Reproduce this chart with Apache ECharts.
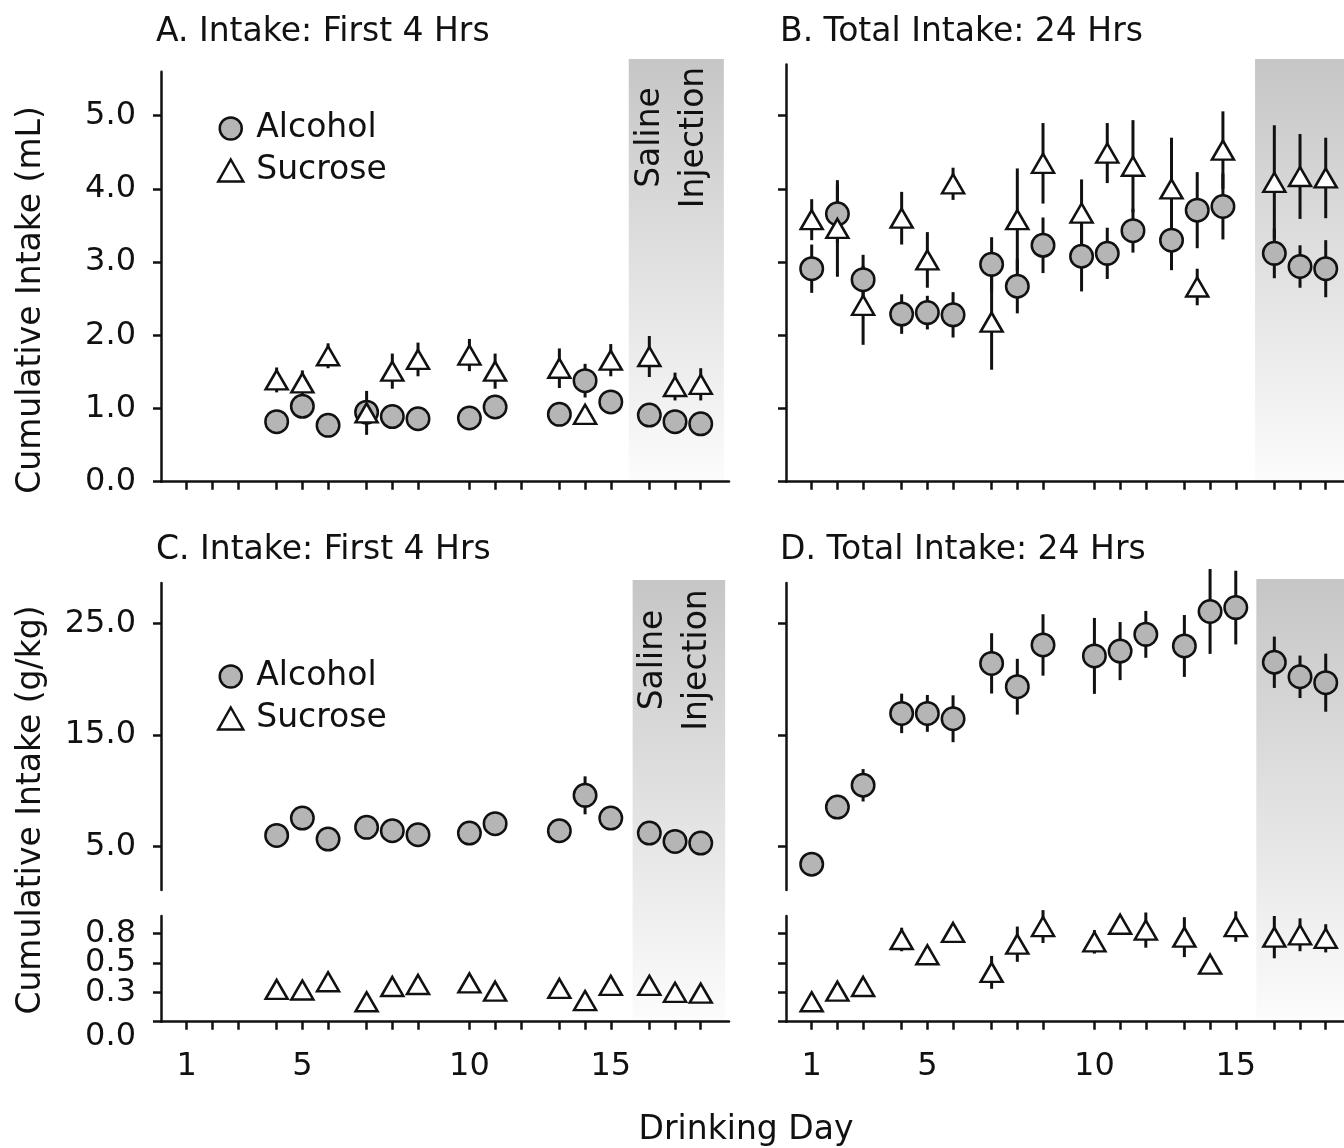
<!DOCTYPE html>
<html>
<head>
<meta charset="utf-8">
<script src="https://cdn.jsdelivr.net/npm/echarts@6/dist/echarts.min.js"></script>
<style>
html, body { margin: 0; padding: 0; background: #fff; }
#chart { width: 1344px; height: 1148px; }
</style>
</head>
<body>
<div id="chart"></div>
<script>
// drinking days and where each sits on the x axis (blocks of 3 with gaps)
var days = [1, 2, 3, 4, 5, 6, 7, 8, 9, 10, 11, 12, 13, 14, 15, 16, 17, 18];
var dayPos = [1, 2, 3, 4.5, 5.5, 6.5, 8, 9, 10, 12, 13, 14, 15.5, 16.5, 17.5, 19, 20, 21];
// panel B plots days 10-15 half a step left of their ticks
var dayPosB = [1, 2, 3, 4.5, 5.5, 6.5, 8, 9, 10, 11.5, 12.5, 13.5, 15, 16, 17, 19, 20, 21];
var labelDays = [1, 5, 10, 15];

var mlTicks = [0, 1, 2, 3, 4, 5];
var gkgTicks = [5, 15, 25];
var lowTicks = [0, 0.25, 0.5, 0.75];
var lowLabels = ['0.0', '0.3', '0.5', '0.8'];

// saline injection block (x positions)
var salineA = [18.2, 21.9];
var salineB = [18.25, 22.1];
var salineC = [18.35, 21.95];
var salineD = [18.3, 22.1];

// A: first 4 hrs (mL)
var alcMlA = [null, null, null, 0.82, 1.03, 0.77, 0.95, 0.89, 0.86, 0.87, 1.02, null, 0.92, 1.38, 1.09, 0.91, 0.82, 0.79];
var alcMlAErr = [0, 0, 0, 0.05, 0.08, 0.05, 0.06, 0.05, 0.05, 0.05, 0.06, 0, 0.05, 0.23, 0.06, 0.05, 0.05, 0.05];
var sucMlA = [null, null, null, 1.39, 1.35, 1.72, 0.94, 1.51, 1.67, 1.73, 1.51, null, 1.55, 0.92, 1.66, 1.71, 1.30, 1.33];
var sucMlAErr = [0, 0, 0, 0.17, 0.17, 0.17, 0.30, 0.24, 0.23, 0.22, 0.24, 0, 0.27, 0.12, 0.22, 0.28, 0.19, 0.22];

// B: total 24 hrs (mL)
var alcMlB = [2.91, 3.66, 2.76, 2.29, 2.31, 2.28, 2.97, 2.67, 3.23, 3.08, 3.12, 3.43, 3.30, 3.71, 3.76, 3.12, 2.94, 2.91];
var alcMlBErr = [0.33, 0.40, 0.34, 0.27, 0.23, 0.31, 0.37, 0.37, 0.38, 0.48, 0.35, 0.30, 0.41, 0.52, 0.45, 0.34, 0.29, 0.39];
var sucMlB = [3.58, 3.46, 2.41, 3.60, 3.03, 4.07, 2.18, 3.58, 4.35, 3.67, 4.49, 4.31, 4.00, 2.66, 4.53, 4.09, 4.17, 4.15];
var sucMlBErr = [0.28, 0.66, 0.54, 0.36, 0.38, 0.22, 0.65, 0.70, 0.55, 0.46, 0.41, 0.63, 0.70, 0.25, 0.53, 0.78, 0.58, 0.55];

// C: first 4 hrs (g/kg)
var alcGC = [null, null, null, 5.99, 7.54, 5.66, 6.71, 6.41, 6.05, 6.20, 7.04, null, 6.41, 9.58, 7.54, 6.20, 5.45, 5.30];
var alcGCErr = [0, 0, 0, 0.5, 0.5, 0.5, 0.5, 0.5, 0.5, 0.5, 0.5, 0, 0.5, 1.7, 0.6, 0.5, 0.5, 0.5];
var sucGC = [null, null, null, 0.275, 0.27, 0.34, 0.17, 0.30, 0.317, 0.33, 0.26, null, 0.283, 0.18, 0.31, 0.31, 0.25, 0.243];
var sucGCErr = [0, 0, 0, 0.03, 0.03, 0.03, 0.03, 0.03, 0.03, 0.03, 0.03, 0, 0.03, 0.03, 0.03, 0.03, 0.03, 0.03];

// D: total 24 hrs (g/kg)
var alcGD = [3.41, 8.53, 10.48, 16.92, 16.92, 16.44, 21.4, 19.31, 23.05, 22.07, 22.5, 24.0, 22.96, 26.05, 26.4, 21.5, 20.2, 19.67];
var alcGDErr = [0.4, 0.6, 1.45, 1.77, 1.65, 2.1, 2.7, 2.5, 2.75, 3.4, 2.6, 2.1, 2.77, 3.8, 3.3, 2.3, 1.9, 2.6];
var sucGD = [0.17, 0.26, 0.30, 0.70, 0.57, 0.76, 0.42, 0.66, 0.81, 0.68, 0.83, 0.78, 0.72, 0.49, 0.81, 0.72, 0.74, 0.71];
var sucGDErr = [0.03, 0.03, 0.04, 0.1, 0.06, 0.04, 0.14, 0.15, 0.14, 0.1, 0.06, 0.15, 0.17, 0.04, 0.13, 0.18, 0.14, 0.12];

var FONT = 'DejaVu Sans';
var INK = '#111';
var FS = 32;   // tick labels
var FT = 33;   // titles, legend, axis names

function pts(xs, ys) {
  var out = [];
  ys.forEach(function (y, i) { if (y !== null) out.push([xs[i], y]); });
  return out;
}

function bars(xs, ys, es) {
  var out = [];
  ys.forEach(function (y, i) { if (y !== null && es[i] > 0) out.push([xs[i], y - es[i], y + es[i]]); });
  return out;
}

function grid(left, top, width, height) {
  return { left: left, top: top, width: width, height: height, containLabel: false, outerBoundsMode: 'none' };
}

function xAx(gi, showLabels) {
  return {
    type: 'value', gridIndex: gi, min: 0, max: 22.1, z: 10,
    axisLine: { show: true, onZero: false, lineStyle: { color: INK, width: 2.5 } },
    axisTick: { show: true, inside: false, length: 8, customValues: dayPos, lineStyle: { color: INK, width: 2.5 } },
    axisLabel: {
      show: showLabels, margin: 29, fontSize: FS, fontFamily: FONT, color: INK, hideOverlap: false,
      customValues: labelDays.map(function (d) { return dayPos[days.indexOf(d)]; }),
      formatter: function (v) { return String(days[dayPos.indexOf(v)]); }
    },
    splitLine: { show: false }
  };
}

function yAx(gi, min, max, ticks, fmt) {
  return {
    type: 'value', gridIndex: gi, min: min, max: max, z: 10, position: 'left',
    axisLine: { show: true, onZero: false, lineStyle: { color: INK, width: 2.5 } },
    axisTick: { show: true, inside: false, length: 8, customValues: ticks, lineStyle: { color: INK, width: 2.5 } },
    axisLabel: {
      show: !!fmt, margin: 25, fontSize: FS, fontFamily: FONT, color: INK,
      hideOverlap: false, showMinLabel: true, showMaxLabel: true,
      customValues: ticks, formatter: fmt || ''
    },
    splitLine: { show: false }
  };
}

// label-only axes for the crowded lower C panel (0.0 sits just under its tick)
function labelAx(gi, vals, valign) {
  return {
    type: 'value', gridIndex: gi, min: 0, max: 0.9, position: 'left', offset: 0,
    axisLine: { show: false }, axisTick: { show: false }, splitLine: { show: false },
    axisLabel: {
      show: true, margin: 25, fontSize: FS, fontFamily: FONT, color: INK,
      verticalAlign: valign || 'middle', lineHeight: 30,
      showMinLabel: true, showMaxLabel: true, hideOverlap: false,
      customValues: vals, formatter: function (v) { return lowLabels[lowTicks.indexOf(v)]; }
    }
  };
}

function hidden(gi, isX) {
  return { type: 'value', gridIndex: gi, min: 0, max: isX ? 22.1 : 1, show: false };
}

function oneDec(v) { return v.toFixed(1); }

function dots(name, gi, xs, ys, circle) {
  return {
    type: 'scatter', name: name, xAxisIndex: gi, yAxisIndex: gi, z: 5, silent: true,
    symbol: circle ? 'circle' : 'triangle',
    symbolSize: circle ? 22.5 : [22, 19],
    itemStyle: { color: circle ? '#b5b5b5' : '#ffffff', borderColor: INK, borderWidth: 2.5, opacity: 1 },
    data: pts(xs, ys)
  };
}

function errs(gi, xs, ys, es) {
  return {
    type: 'custom', xAxisIndex: gi, yAxisIndex: gi, z: 4, silent: true, clip: false,
    renderItem: function (params, api) {
      var a = api.coord([api.value(0), api.value(1)]);
      var b = api.coord([api.value(0), api.value(2)]);
      return { type: 'line', shape: { x1: a[0], y1: a[1], x2: b[0], y2: b[1] }, style: { stroke: INK, lineWidth: 3 } };
    },
    data: bars(xs, ys, es)
  };
}

function shade(gi, span) {
  return {
    type: 'scatter', xAxisIndex: gi, yAxisIndex: gi, z: 1, silent: true, data: [],
    markArea: {
      silent: true,
      itemStyle: {
        opacity: 1,
        color: { type: 'linear', x: 0, y: 0, x2: 0, y2: 1,
          colorStops: [{ offset: 0, color: '#c6c6c6' }, { offset: 1, color: '#fcfcfc' }] }
      },
      data: [[{ coord: [span[0], 0] }, { coord: [span[1], 1] }]]
    }
  };
}

function legendAt(top) {
  return {
    orient: 'vertical', left: 212, top: top, itemWidth: 25, itemHeight: 22, itemGap: 9,
    selectedMode: false, data: ['Alcohol', 'Sucrose'],
    itemStyle: { borderColor: INK, borderWidth: 2.5 },
    textStyle: { fontSize: FT, fontFamily: FONT, color: INK, padding: [0, 0, 0, 8], lineHeight: 32 }
  };
}

function vText(x, y, text, lh) {
  return {
    type: 'text', x: x, y: y, rotation: Math.PI / 2, z: 20, silent: true,
    style: { text: text, fontSize: FT, fontFamily: FONT, fill: INK, align: 'center', verticalAlign: 'middle', lineHeight: lh || 36 }
  };
}

function titleAt(text, left, top) {
  return { text: text, left: left, top: top, padding: 0,
    textStyle: { fontSize: FT, fontFamily: FONT, fontWeight: 'normal', color: INK } };
}

var chart = echarts.init(document.getElementById('chart'), null, { renderer: 'canvas' });

chart.setOption({
  animation: false,
  backgroundColor: '#ffffff',
  textStyle: { fontFamily: FONT },
  title: [
    titleAt('A. Intake: First 4 Hrs', 156, 16),
    titleAt('B. Total Intake: 24 Hrs', 780, 16),
    titleAt('C. Intake: First 4 Hrs', 156, 534),
    titleAt('D. Total Intake: 24 Hrs', 780, 534)
  ],
  legend: [legendAt(107), legendAt(655)],
  grid: [
    grid(161, 71.7, 568, 410),
    grid(786, 64.5, 568, 417.2),
    grid(161, 583, 568, 307),
    grid(161, 916, 568, 105.7),
    grid(786, 583, 568, 307),
    grid(786, 916, 568, 105.7),
    grid(161, 59, 568, 422.7),
    grid(786, 59, 568, 422.7),
    grid(161, 580, 568, 441.7),
    grid(786, 579, 568, 442.7)
  ],
  xAxis: [
    xAx(0, false), xAx(1, false),
    hidden(2, true), xAx(3, true),
    hidden(4, true), xAx(5, true),
    hidden(6, true), hidden(7, true), hidden(8, true), hidden(9, true)
  ],
  yAxis: [
    yAx(0, 0, 5.6, mlTicks, oneDec),
    yAx(1, 0, 5.7, mlTicks, null),
    yAx(2, 1.1, 28.6, gkgTicks, oneDec),
    yAx(3, 0, 0.9, lowTicks, null),
    yAx(4, 1.1, 28.6, gkgTicks, null),
    yAx(5, 0, 0.9, lowTicks, null),
    hidden(6, false), hidden(7, false), hidden(8, false), hidden(9, false),
    labelAx(3, [0.25, 0.75]),
    labelAx(3, [0.5]),
    labelAx(3, [0], 'top')
  ],
  graphic: [
    vText(672, 137.5, 'Saline\nInjection', 44),
    vText(675, 660, 'Saline\nInjection', 44),
    vText(31, 300, 'Cumulative Intake (mL)'),
    vText(31, 810, 'Cumulative Intake (g/kg)'),
    { type: 'text', x: 746, y: 1130, z: 20, silent: true,
      style: { text: 'Drinking Day', fontSize: FT, fontFamily: FONT, fill: INK, align: 'center', verticalAlign: 'middle' } }
  ],
  series: [
    shade(6, salineA), shade(7, salineB), shade(8, salineC), shade(9, salineD),

    errs(0, dayPos, alcMlA, alcMlAErr), errs(0, dayPos, sucMlA, sucMlAErr),
    dots('Alcohol', 0, dayPos, alcMlA, true), dots('Sucrose', 0, dayPos, sucMlA, false),

    errs(1, dayPosB, alcMlB, alcMlBErr), errs(1, dayPosB, sucMlB, sucMlBErr),
    dots('Alcohol', 1, dayPosB, alcMlB, true), dots('Sucrose', 1, dayPosB, sucMlB, false),

    errs(2, dayPos, alcGC, alcGCErr), dots('Alcohol', 2, dayPos, alcGC, true),
    errs(3, dayPos, sucGC, sucGCErr), dots('Sucrose', 3, dayPos, sucGC, false),

    errs(4, dayPos, alcGD, alcGDErr), dots('Alcohol', 4, dayPos, alcGD, true),
    errs(5, dayPos, sucGD, sucGDErr), dots('Sucrose', 5, dayPos, sucGD, false)
  ]
});
</script>
</body>
</html>
